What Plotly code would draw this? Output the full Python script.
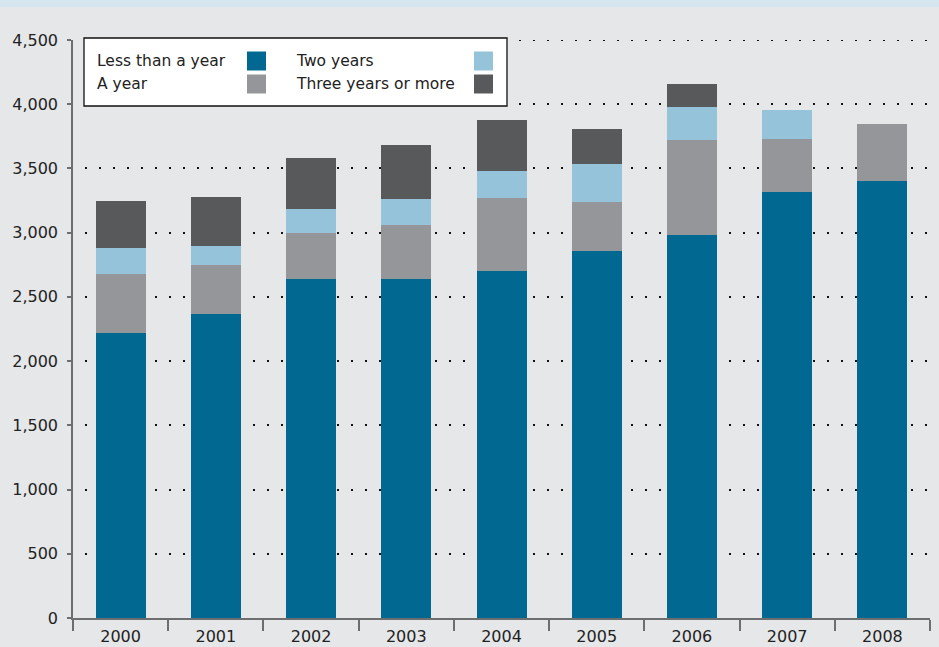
import plotly.graph_objects as go

years = ["2000", "2001", "2002", "2003", "2004", "2005", "2006", "2007", "2008"]
less_than_a_year = [2220, 2370, 2640, 2640, 2700, 2860, 2985, 3320, 3405]
a_year = [460, 382, 358, 421, 569, 375, 733, 413, 444]
two_years = [202, 148, 188, 203, 210, 296, 257, 219, 0]
three_plus = [368, 374, 397, 421, 398, 273, 179, 0, 0]

series_names = ["Less than a year", "A year", "Two years", "Three years or more"]
series_values = [less_than_a_year, a_year, two_years, three_plus]
series_colors = ["#006891", "#959699", "#94c3da", "#58595b"]

y_ticks = [0, 500, 1000, 1500, 2000, 2500, 3000, 3500, 4000, 4500]

W, H = 939, 647
L, R, T, B = 73, 9, 40, 29
PW, PH = W - L - R, H - T - B
FONT = "DejaVu Sans"
GRID_DASH = "0px,12px,2px,0px"


def px(x):
    return (x - L) / PW


def py(y):
    return (H - B - y) / PH


fig = go.Figure()
for name, vals, col in zip(series_names, series_values, series_colors):
    fig.add_trace(go.Bar(x=years, y=vals, name=name, marker=dict(color=col, line=dict(width=0)),
                         showlegend=False))

shapes = []
annotations = []
# top strip
shapes.append(dict(type="rect", xref="paper", yref="paper", x0=px(0), x1=px(W), y0=py(7), y1=py(0),
                   fillcolor="#d5e6f0", line=dict(width=0), layer="below"))
# top gridline (plotly hides the grid line at the range edge)
shapes.append(dict(type="line", xref="paper", yref="y", x0=0, x1=1, y0=y_ticks[-1], y1=y_ticks[-1],
                   line=dict(color="#111111", width=2, dash=GRID_DASH), layer="below"))
# legend box
shapes.append(dict(type="rect", xref="paper", yref="paper", x0=px(84), x1=px(507), y0=py(106), y1=py(38),
                   fillcolor="white", line=dict(color="#111111", width=1.3), layer="above"))
legend_layout = [(0, 95, 247, 61), (1, 95, 247, 84), (2, 294, 474, 61), (3, 294, 474, 84)]
for idx, tx, sx, cy in legend_layout:
    annotations.append(dict(text=series_names[idx], xref="paper", yref="paper", x=px(tx), y=py(cy),
                            xanchor="left", yanchor="middle", showarrow=False,
                            font=dict(family=FONT, size=15.5, color="#222222")))
    shapes.append(dict(type="rect", xref="paper", yref="paper", x0=px(sx), x1=px(sx + 19),
                       y0=py(cy + 9.5), y1=py(cy - 9.5), fillcolor=series_colors[idx],
                       line=dict(width=0), layer="above"))

fig.update_layout(
    width=W, height=H,
    margin=dict(l=L, r=R, t=T, b=B, pad=0, autoexpand=False),
    paper_bgcolor="#e6e7e9", plot_bgcolor="#e6e7e9",
    barmode="stack", bargap=0.475,
    shapes=shapes, annotations=annotations,
    showlegend=False,
    font=dict(family=FONT, size=16, color="#333333"),
)
fig.update_xaxes(
    type="category", range=[-0.5, 8.5], showgrid=False, zeroline=False, automargin=False,
    showline=True, linecolor="#6d6e70", linewidth=1.5,
    ticks="outside", tickson="boundaries", ticklen=11, tickcolor="#6d6e70", tickwidth=1.5,
    tickfont=dict(family=FONT, size=16, color="#222222"),
    ticklabelstandoff=3,
)
fig.update_yaxes(
    range=[0, 4500], tickvals=y_ticks, tickformat=",d", automargin=False,
    showline=True, linecolor="#6d6e70", linewidth=1.5,
    ticks="outside", ticklen=4, tickcolor="#6d6e70", tickwidth=1.5,
    showgrid=True, gridcolor="#111111", gridwidth=2, griddash=GRID_DASH,
    zeroline=False,
    tickfont=dict(family=FONT, size=16, color="#222222"),
    ticklabelstandoff=6,
)

fig.write_html("out.html", config={"displayModeBar": False},
               post_script="document.body.style.margin='0';document.body.style.padding='0';"
                           "document.body.style.background='#e6e7e9';")
